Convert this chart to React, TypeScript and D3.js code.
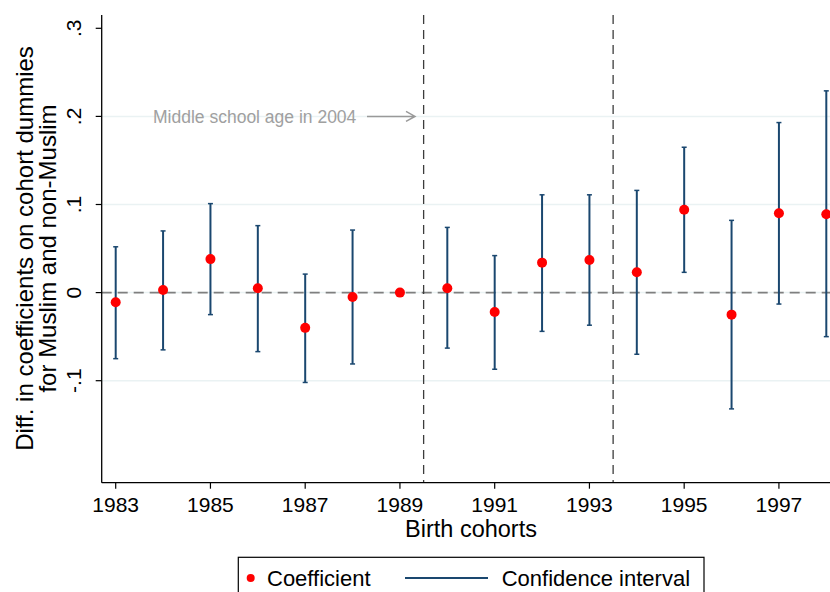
import React, { useEffect, useRef } from 'react'
import * as d3 from 'd3'

// Birth cohorts and estimates (1989 is the reference cohort)
const years = [1983, 1984, 1985, 1986, 1987, 1988, 1989, 1990, 1991, 1992, 1993, 1994, 1995, 1996, 1997, 1998]
const coef = [-0.011, 0.003, 0.038, 0.005, -0.040, -0.005, 0, 0.005, -0.022, 0.034, 0.037, 0.023, 0.094, -0.025, 0.090, 0.089]
const ciLow = [-0.075, -0.065, -0.025, -0.067, -0.102, -0.081, null, -0.063, -0.087, -0.044, -0.037, -0.070, 0.023, -0.132, -0.013, -0.050]
const ciHigh = [0.052, 0.070, 0.101, 0.076, 0.021, 0.071, null, 0.074, 0.042, 0.111, 0.111, 0.116, 0.165, 0.082, 0.193, 0.229]

const xTicks = [1983, 1985, 1987, 1989, 1991, 1993, 1995, 1997]
const yTicks = [-0.1, 0, 0.1, 0.2, 0.3]
const yTickLabels = ['-.1', '0', '.1', '.2', '.3']
const gridValues = [-0.1, 0, 0.1, 0.2]
const cutoffs = [1989.5, 1993.5]

const FONT = '"Liberation Sans", Arial, sans-serif'
const NAVY = '#1a476f'

export default function App() {
  const ref = useRef<SVGSVGElement>(null)

  useEffect(() => {
    const svg = d3.select(ref.current)
    svg.selectAll('*').remove()

    const left = 101.7, top = 15, bottom = 482.7, right = 830
    const x = d3.scaleLinear().domain([1983, 1998]).range([115.7, 826.3])
    const y = d3.scaleLinear().domain([-0.1, 0.3]).range([380.7, 28.3])

    // gridlines
    svg.append('g').selectAll('line').data(gridValues).join('line')
      .attr('x1', left).attr('x2', right)
      .attr('y1', d => y(d)).attr('y2', d => y(d))
      .attr('stroke', '#eaf2f3').attr('stroke-width', 1.5)

    // zero reference line
    svg.append('line')
      .attr('x1', left).attr('x2', right)
      .attr('y1', y(0)).attr('y2', y(0))
      .attr('stroke', '#7f7f7f').attr('stroke-width', 1.6)
      .attr('stroke-dasharray', '10,6')

    // vertical cutoff lines
    svg.append('g').selectAll('line').data(cutoffs).join('line')
      .attr('x1', d => x(d)).attr('x2', d => x(d))
      .attr('y1', top).attr('y2', bottom)
      .attr('stroke', '#3c3c3c').attr('stroke-width', 1.3)
      .attr('stroke-dasharray', '9,6')

    // confidence intervals
    const ci = years.map((yr, i) => ({ yr, lo: ciLow[i], hi: ciHigh[i] })).filter(d => d.lo !== null)
    const g = svg.append('g')
    g.selectAll('.ci').data(ci).join('line')
      .attr('x1', d => x(d.yr)).attr('x2', d => x(d.yr))
      .attr('y1', d => y(d.lo as number)).attr('y2', d => y(d.hi as number))
      .attr('stroke', NAVY).attr('stroke-width', 2)
    ;['lo', 'hi'].forEach(k => {
      g.selectAll('.cap' + k).data(ci).join('line')
        .attr('x1', d => x(d.yr) - 2.5).attr('x2', d => x(d.yr) + 2.5)
        .attr('y1', d => y((d as any)[k])).attr('y2', d => y((d as any)[k]))
        .attr('stroke', NAVY).attr('stroke-width', 1.5)
    })

    // coefficients
    svg.append('g').selectAll('circle').data(years).join('circle')
      .attr('cx', d => x(d)).attr('cy', (d, i) => y(coef[i]))
      .attr('r', 5).attr('fill', '#ff0000')

    // axes
    svg.append('line').attr('x1', left).attr('x2', left).attr('y1', top).attr('y2', bottom)
      .attr('stroke', '#000').attr('stroke-width', 1.3)
    svg.append('line').attr('x1', left).attr('x2', right).attr('y1', bottom).attr('y2', bottom)
      .attr('stroke', '#000').attr('stroke-width', 1.3)

    // y ticks
    svg.append('g').selectAll('line').data(yTicks).join('line')
      .attr('x1', left - 6).attr('x2', left)
      .attr('y1', d => y(d)).attr('y2', d => y(d))
      .attr('stroke', '#000').attr('stroke-width', 1.2)
    svg.append('g').selectAll('text').data(yTicks).join('text')
      .attr('transform', d => `translate(81, ${y(d)}) rotate(-90)`)
      .attr('text-anchor', 'middle')
      .style('font-family', FONT).style('font-size', '21px')
      .text((d, i) => yTickLabels[i])

    // x ticks
    svg.append('g').selectAll('line').data(xTicks).join('line')
      .attr('x1', d => x(d)).attr('x2', d => x(d))
      .attr('y1', bottom).attr('y2', bottom + 6)
      .attr('stroke', '#000').attr('stroke-width', 1.2)
    svg.append('g').selectAll('text').data(xTicks).join('text')
      .attr('x', d => x(d)).attr('y', 512)
      .attr('text-anchor', 'middle')
      .style('font-family', FONT).style('font-size', '21px')
      .text(d => String(d))

    // axis titles
    svg.append('text').attr('x', 471).attr('y', 536.5).attr('text-anchor', 'middle')
      .style('font-family', FONT).style('font-size', '23.5px').text('Birth cohorts')
    const ty = 248.5
    svg.append('text').attr('transform', `translate(33, ${ty}) rotate(-90)`).attr('text-anchor', 'middle')
      .style('font-family', FONT).style('font-size', '24px').text('Diff. in coefficients on cohort dummies')
    svg.append('text').attr('transform', `translate(56, ${ty}) rotate(-90)`).attr('text-anchor', 'middle')
      .style('font-family', FONT).style('font-size', '24px').text('for Muslim and non-Muslim')

    // annotation
    svg.append('text').attr('x', 153).attr('y', y(0.2) + 6.5)
      .style('font-family', FONT).style('font-size', '17.5px').attr('fill', '#a0a0a0')
      .text('Middle school age in 2004')
    const ay = y(0.2)
    svg.append('path')
      .attr('d', `M367,${ay}H415M406,${ay - 5}L415,${ay}L406,${ay + 5}`)
      .attr('fill', 'none').attr('stroke', '#999').attr('stroke-width', 1.5)

    // legend
    svg.append('rect').attr('x', 238.3).attr('y', 557.3).attr('width', 465.7).attr('height', 50)
      .attr('fill', '#fff').attr('stroke', '#000').attr('stroke-width', 1.2)
    svg.append('circle').attr('cx', 250.7).attr('cy', 578).attr('r', 4).attr('fill', '#ff0000')
    svg.append('text').attr('x', 267).attr('y', 585.5)
      .style('font-family', FONT).style('font-size', '22px').text('Coefficient')
    svg.append('line').attr('x1', 405).attr('x2', 488).attr('y1', 578).attr('y2', 578)
      .attr('stroke', NAVY).attr('stroke-width', 2)
    svg.append('text').attr('x', 501.7).attr('y', 585.5)
      .style('font-family', FONT).style('font-size', '22px').text('Confidence interval')
  }, [])

  return (
    <svg ref={ref} width={830} height={592}
      style={{ position: 'absolute', left: 0, top: 0, background: '#fff' }} />
  )
}
